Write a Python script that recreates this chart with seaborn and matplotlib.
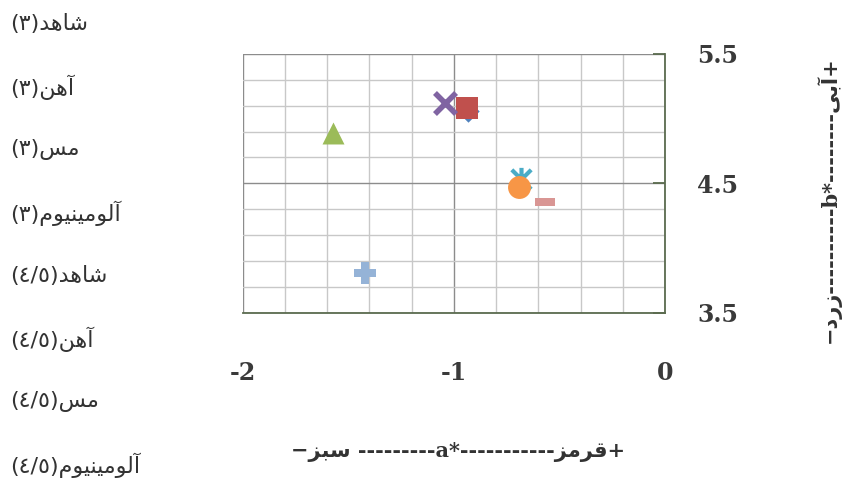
import matplotlib
matplotlib.use("Agg")
import matplotlib.pyplot as plt
import seaborn as sns
from matplotlib.path import Path
from matplotlib.ticker import MultipleLocator

# --- data ---
materials = ["شاهد", "آهن", "مس", "آلومینیوم"]
thickness = ["۳", "٤/٥"]
a_star = [-0.935, -0.94, -1.57, -1.04, -0.68, -0.69, -1.42, -0.57]
b_star = [5.06, 5.085, 4.89, 5.12, 4.53, 4.47, 3.81, 4.355]
x_ticks = [-2, -1, 0]
y_ticks = [3.5, 4.5, 5.5]

colors = ["#4F81BD", "#C0504D", "#9BBB59", "#8064A2",
          "#4BACC6", "#F79646", "#95B3D7", "#D99694"]

# Excel-like markers
star = Path([(-1, -1), (1, 1), (-1, 1), (1, -1), (0, -1.2), (0, 1.2)],
            [Path.MOVETO, Path.LINETO, Path.MOVETO, Path.LINETO, Path.MOVETO, Path.LINETO])
dash = [(-1, -0.42), (1, -0.42), (1, 0.42), (-1, 0.42), (-1, -0.42)]
markers = ["D", "s", "^", "x", star, "o", "P", dash]
sizes = [130, 272, 250, 230, 280, 272, 250, 190]
line_marker = [False, False, False, True, True, False, False, False]

# minimal arabic shaping -> presentation forms in visual order
FORMS = {
    "ا": ("\uFE8D", "\uFE8E", None, None),
    "آ": ("\uFE81", "\uFE82", None, None),
    "ب": ("\uFE8F", "\uFE90", "\uFE91", "\uFE92"),
    "د": ("\uFEA9", "\uFEAA", None, None),
    "ر": ("\uFEAD", "\uFEAE", None, None),
    "ز": ("\uFEAF", "\uFEB0", None, None),
    "س": ("\uFEB1", "\uFEB2", "\uFEB3", "\uFEB4"),
    "ش": ("\uFEB5", "\uFEB6", "\uFEB7", "\uFEB8"),
    "ق": ("\uFED5", "\uFED6", "\uFED7", "\uFED8"),
    "ل": ("\uFEDD", "\uFEDE", "\uFEDF", "\uFEE0"),
    "م": ("\uFEE1", "\uFEE2", "\uFEE3", "\uFEE4"),
    "ن": ("\uFEE5", "\uFEE6", "\uFEE7", "\uFEE8"),
    "ه": ("\uFEE9", "\uFEEA", "\uFEEB", "\uFEEC"),
    "و": ("\uFEED", "\uFEEE", None, None),
    "ی": ("\uFBFC", "\uFBFD", "\uFBFE", "\uFBFF"),
}


def fa(word):
    out = []
    for i, ch in enumerate(word):
        f = FORMS.get(ch)
        if f is None:
            out.append(ch)
            continue
        prev = FORMS.get(word[i - 1]) if i > 0 else None
        nxt = word[i + 1] if i + 1 < len(word) else ""
        jp = prev is not None and prev[2] is not None
        jn = f[2] is not None and nxt in FORMS
        out.append(f[3] if jp and jn else f[1] if jp else f[2] if jn else f[0])
    return "".join(reversed(out))


sns.set_theme(style="white")
plt.rcParams["axes.unicode_minus"] = False
plt.rcParams["font.family"] = ["DejaVu Sans"]

fig = plt.figure(figsize=(8.51, 4.83), dpi=100)
ax = fig.add_axes([0.2852, 0.3526, 0.4962, 0.5356])

for i in range(len(a_star)):
    kw = dict(color=colors[i], edgecolor=colors[i])
    if line_marker[i]:
        kw["linewidth"] = 4 if i == 3 else 3
    else:
        kw["linewidth"] = 0
    sns.scatterplot(x=[a_star[i]], y=[b_star[i]], marker=markers[i], s=sizes[i],
                    ax=ax, legend=False, zorder=3, **kw)

ax.set_xlim(-2, 0)
ax.set_ylim(3.5, 5.5)
ax.set_xticks(x_ticks)
ax.set_yticks(y_ticks)
ax.set_xticklabels([f"{t:g}" for t in x_ticks])
ax.set_yticklabels([f"{t:.1f}" for t in y_ticks])
ax.xaxis.set_minor_locator(MultipleLocator(0.2))
ax.yaxis.set_minor_locator(MultipleLocator(0.2, offset=0.1))
ax.set_axisbelow(True)
ax.grid(which="minor", color="#c8c8c8", lw=1)
ax.grid(which="major", color="#8c8c8c", lw=1)
ax.set_xlabel("")
ax.set_ylabel("")

ax.yaxis.tick_right()
ax.tick_params(axis="y", which="major", direction="in", length=9, width=1.3,
               color="#5b6b4f", pad=23, right=True, left=False)
ax.tick_params(axis="x", which="major", length=0, pad=35)
ax.tick_params(which="minor", length=0)
for lab in ax.get_xticklabels() + ax.get_yticklabels():
    lab.set_fontfamily("DejaVu Serif")
    lab.set_fontweight("bold")
    lab.set_fontsize(17)
    lab.set_color("#3a3a3a")

for side in ["left", "top"]:
    ax.spines[side].set_visible(False)
for side in ["right", "bottom"]:
    ax.spines[side].set_color("#5b6b4f")
    ax.spines[side].set_linewidth(1.3)

# legend-like labels (text only, as in the source)
row = 0
for t in thickness:
    for m in materials:
        fig.text(10 / 851, 1 - (24 + 63 * row) / 483, f"({t})" + fa(m),
                 ha="left", va="center", fontsize=16, color="#333333")
        row += 1

# axis captions
xcap = "−" + fa("سبز") + " " + "-" * 9 + "a*" + "-" * 11 + fa("قرمز") + "+"
fig.text(458 / 851, 1 - 452 / 483, xcap, ha="center", va="center", fontsize=15,
         fontweight="bold", family=["DejaVu Serif", "DejaVu Sans"], color="#333333")
ycap = "−" + fa("زرد") + "-" * 10 + "b*" + "-" * 8 + fa("آبی") + "+"
fig.text(828 / 851, 1 - 200 / 483, ycap, rotation=90, ha="center", va="center",
         fontsize=15, fontweight="bold", family=["DejaVu Serif", "DejaVu Sans"],
         color="#333333")

fig.savefig("out.png", dpi=100)
